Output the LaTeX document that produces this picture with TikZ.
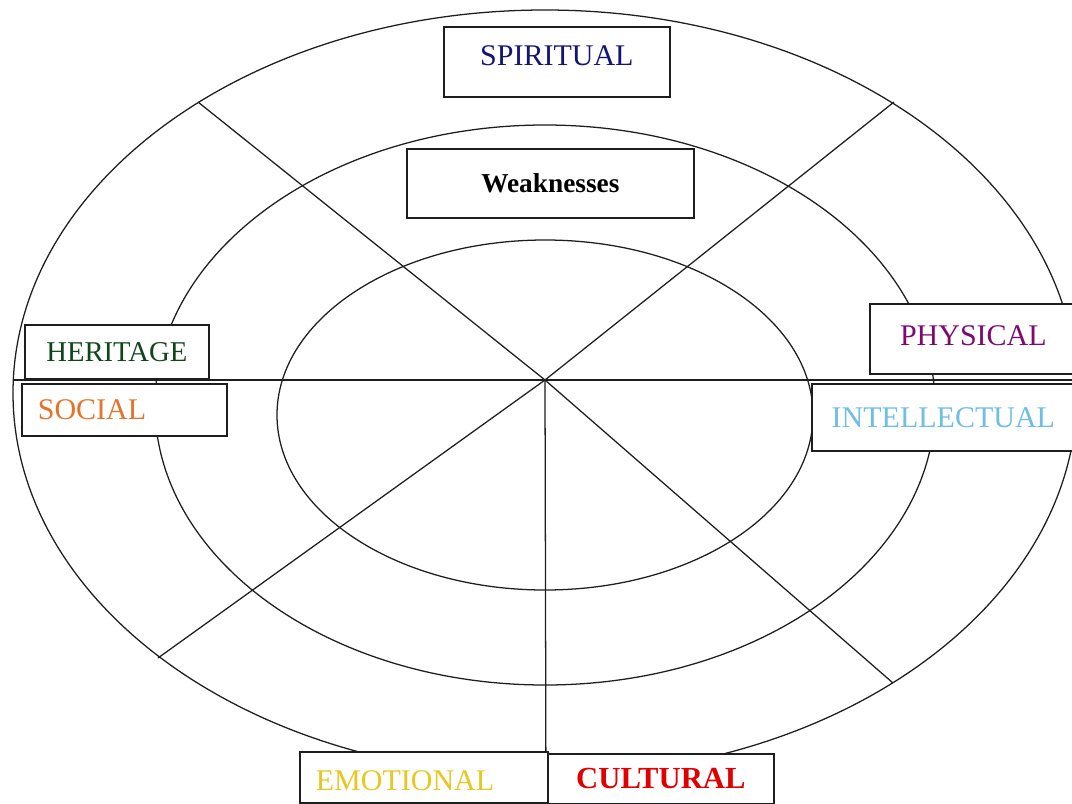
\documentclass[tikz,border=0pt]{standalone}
\usepackage{fontspec}
\setmainfont{Liberation Serif}
\definecolor{cspirit}{RGB}{20,20,120}
\definecolor{cherit}{RGB}{15,70,25}
\definecolor{csocial}{RGB}{230,115,40}
\definecolor{cphys}{RGB}{125,10,115}
\definecolor{cintel}{RGB}{110,190,230}
\definecolor{cemot}{RGB}{232,200,30}
\definecolor{ccult}{RGB}{225,0,0}
\definecolor{cline}{RGB}{30,30,30}
\begin{document}
\begin{tikzpicture}[x=0.75pt,y=-0.75pt,
  ring/.style={line width=0.95pt, draw=cline},
  spoke/.style={line width=0.95pt, draw=cline},
  lbl/.style={draw=cline, line width=1.3pt, fill=white, inner sep=0pt, anchor=north west,
              font=\fontsize{22.5}{24}\selectfont},
  lbll/.style={lbl, align=left, inner xsep=12pt, inner ysep=0pt}
]
\useasboundingbox (0,0) rectangle (1072,804);
\clip (0,0) rectangle (1072,804);
\fill[white] (0,0) rectangle (1072,804);

% rings
\draw[ring] (545,393) ellipse [x radius=399pt, y radius=287.25pt];
\draw[ring] (545,405) ellipse [x radius=292.5pt, y radius=210pt];
\draw[ring] (545,415) ellipse [x radius=201pt, y radius=131.25pt];

% spokes
\coordinate (c) at (545,380);
\coordinate (ul) at (198,102);
\coordinate (ur) at (894,102);
\coordinate (ll) at (158,658);
\coordinate (lr) at (893,683);
\coordinate (hl) at (13,380);
\coordinate (hr) at (1074,380);
\coordinate (bot) at (546,806);
\draw[spoke] (c) -- (ul);
\draw[spoke] (c) -- (ur);
\draw[spoke] (c) -- (ll);
\draw[spoke] (c) -- (lr);
\draw[spoke] (hl) -- (hr);
\draw[spoke] (c) -- (bot);

% labels
\node[lbl, minimum width=169.5pt, minimum height=52.5pt, text depth=9pt, text=cspirit]
  (spiritual) at (443,26) {SPIRITUAL};
\node[lbl, minimum width=215.25pt, minimum height=51.75pt, font=\fontsize{20.5}{22}\selectfont\bfseries]
  (weak) at (406,148) {Weaknesses};
\node[lbl, minimum width=138pt, minimum height=40.5pt, text=cherit, font=\fontsize{21.5}{23}\selectfont]
  (heritage) at (24,324) {HERITAGE};
\node[lbll, text width=129.75pt, minimum height=39pt, text=csocial]
  (social) at (21,383) {SOCIAL};
\node[lbl, minimum width=155.25pt, minimum height=52.5pt, text depth=4.5pt, text=cphys]
  (physical) at (869,303) {PHYSICAL};
\node[lbl, minimum width=197.25pt, minimum height=50.25pt, text=cintel]
  (intel) at (811,383) {INTELLECTUAL};
\node[lbll, text width=162pt, minimum height=38.25pt, text height=20pt, text=cemot]
  (emotional) at (299,751) {EMOTIONAL};
\node[lbl, minimum width=169.5pt, minimum height=37.5pt, text=ccult, font=\fontsize{23}{24}\selectfont\bfseries]
  (cultural) at (547,753) {CULTURAL};
\end{tikzpicture}
\end{document}
